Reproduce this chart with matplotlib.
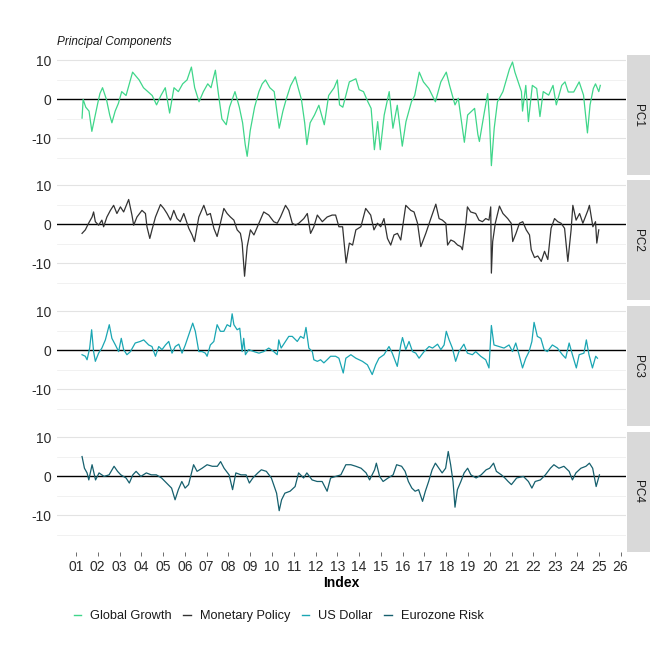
import matplotlib
matplotlib.use("Agg")
import matplotlib.pyplot as plt
from matplotlib.lines import Line2D
import numpy as np

plt.rcParams['font.family'] = ['Liberation Sans', 'DejaVu Sans']

# ---- data (decimal year, value) ----
pc1_years = [2001.28, 2001.33, 2001.45, 2001.6, 2001.73, 2001.85, 2002.0, 2002.1, 2002.22, 2002.4, 2002.55, 2002.65, 2002.8, 2002.95,
             2003.1, 2003.3, 2003.5, 2003.6, 2003.75, 2003.9, 2004.1, 2004.3, 2004.5, 2004.7, 2004.9, 2005.1, 2005.3, 2005.5, 2005.7, 2005.9,
             2006.1, 2006.3, 2006.45, 2006.65, 2006.85, 2007.05, 2007.2, 2007.4, 2007.55, 2007.7, 2007.9, 2008.05, 2008.3, 2008.5, 2008.65,
             2008.77, 2008.86, 2009.0, 2009.2, 2009.4, 2009.55, 2009.7, 2009.9, 2010.1, 2010.33, 2010.5, 2010.65, 2010.85, 2011.07, 2011.2,
             2011.35, 2011.5, 2011.6, 2011.75, 2011.95, 2012.15, 2012.4, 2012.6, 2012.85, 2013.0, 2013.1, 2013.25, 2013.55, 2013.85, 2014.0,
             2014.2, 2014.4, 2014.55, 2014.7, 2014.85, 2014.97, 2015.15, 2015.38, 2015.55, 2015.75, 2015.98, 2016.15, 2016.4, 2016.55, 2016.76,
             2016.95, 2017.2, 2017.5, 2017.75, 2018.0, 2018.15, 2018.4, 2018.55, 2018.7, 2018.83, 2018.98, 2019.3, 2019.45, 2019.52, 2019.75,
             2019.9, 2019.98, 2020.07, 2020.2, 2020.35, 2020.6, 2020.75, 2020.9, 2021.04, 2021.15, 2021.3, 2021.45, 2021.5, 2021.65, 2021.77,
             2021.95, 2022.15, 2022.3, 2022.45, 2022.7, 2022.9, 2023.05, 2023.3, 2023.45, 2023.6, 2023.85, 2024.1, 2024.3, 2024.48, 2024.6,
             2024.75, 2024.85, 2025.0, 2025.07]
pc1_values = [-4.8, 0.0, -2.0, -3.0, -8.2, -5.0, -1.0, 1.5, 3.0, 0.0, -4.0, -6.0, -3.0, -1.0,
              2.0, 1.0, 5.0, 7.0, 6.0, 5.0, 3.0, 2.0, 1.0, -1.4, 1.0, 3.0, -3.5, 3.0, 2.0, 4.0,
              5.0, 8.3, 3.0, -0.6, 2.0, 4.0, 3.0, 7.5, 1.0, -5.0, -6.5, -2.0, 2.0, -2.0, -6.0,
              -11.6, -14.6, -8.0, -2.0, 2.0, 4.0, 5.0, 3.0, 2.0, -7.4, -3.0, 0.0, 3.5, 5.8, 3.0,
              0.0, -6.0, -11.6, -6.0, -4.0, -1.5, -6.5, 1.0, 3.0, 5.0, -1.4, -2.0, 4.5, 5.3, 2.5,
              2.0, -0.6, -2.3, -12.9, -5.7, -12.9, -4.0, 2.0, -7.4, -1.5, -12.0, -5.7, -0.6, 1.0, 7.0,
              4.5, 2.8, -0.6, 4.5, 7.0, 3.6, -1.4, 0.3, -5.7, -11.0, -4.0, -2.3, -9.0, -10.8, -3.2,
              1.5, -4.8, -17.0, -7.4, -0.6, 2.0, 4.9, 7.8, 9.6, 7.0, 4.5, 2.0, -3.0, 3.6, -5.7,
              3.6, 2.8, -4.4, 2.0, 1.1, 3.6, -1.4, 3.6, 4.5, 1.9, 1.9, 4.5, 1.1, -8.6, -1.4,
              2.8, 4.0, 2.0, 3.6]

pc2_years = [2001.28, 2001.43, 2001.58, 2001.74, 2001.81, 2001.89, 2002.04, 2002.19, 2002.27, 2002.42, 2002.58, 2002.73, 2002.88, 2003.04,
             2003.19, 2003.42, 2003.57, 2003.65, 2003.8, 2004.03, 2004.19, 2004.26, 2004.39, 2004.49, 2004.65, 2004.88, 2005.03, 2005.18,
             2005.34, 2005.49, 2005.64, 2005.79, 2005.95, 2006.18, 2006.33, 2006.44, 2006.64, 2006.87, 2007.02, 2007.17, 2007.33, 2007.48,
             2007.63, 2007.79, 2007.94, 2008.09, 2008.25, 2008.4, 2008.55, 2008.63, 2008.74, 2008.86, 2009.01, 2009.17, 2009.4, 2009.62,
             2009.85, 2010.08, 2010.24, 2010.39, 2010.62, 2010.77, 2010.93, 2011.08, 2011.23, 2011.46, 2011.62, 2011.77, 2011.92, 2012.08,
             2012.31, 2012.53, 2012.76, 2012.92, 2013.07, 2013.24, 2013.4, 2013.55, 2013.7, 2013.85, 2014.08, 2014.3, 2014.53, 2014.68,
             2014.84, 2014.99, 2015.14, 2015.3, 2015.45, 2015.6, 2015.76, 2015.91, 2016.14, 2016.37, 2016.52, 2016.68, 2016.83, 2017.06,
             2017.29, 2017.52, 2017.67, 2017.82, 2017.98, 2018.06, 2018.21, 2018.36, 2018.52, 2018.67, 2018.74, 2018.9, 2018.97, 2019.12,
             2019.35, 2019.5, 2019.66, 2019.81, 2019.96, 2020.04, 2020.07, 2020.13, 2020.25, 2020.44, 2020.6, 2020.82, 2020.98, 2021.05,
             2021.2, 2021.36, 2021.51, 2021.67, 2021.82, 2021.9, 2022.05, 2022.2, 2022.36, 2022.51, 2022.66, 2022.81, 2022.97, 2023.12,
             2023.27, 2023.43, 2023.58, 2023.73, 2023.81, 2023.96, 2024.12, 2024.27, 2024.5, 2024.57, 2024.73, 2024.85, 2024.91, 2025.0]
pc2_values = [-2.3, -1.4, 0.3, 1.9, 3.2, 0.7, -0.2, 1.1, -0.6, 1.9, 3.6, 4.9, 2.8, 4.5,
              3.2, 6.4, 2.4, -0.2, 1.9, 3.6, 2.8, -0.6, -3.6, -1.4, 1.9, 5.1, 4.1, 2.8,
              1.1, 3.6, 1.5, 0.7, 2.8, -1.0, -2.7, -4.4, 1.9, 4.9, 2.4, 2.8, -1.0, -3.1,
              0.3, 4.1, 2.8, 1.9, 1.1, -1.4, -2.3, -4.8, -13.3, -5.7, -1.4, -2.7, 0.3, 3.2,
              2.4, 0.7, 0.3, 1.9, 4.9, 3.6, 0.3, -0.2, 0.3, 1.5, 2.8, -2.3, -0.6, 2.4,
              0.7, 1.9, 2.4, 2.4, -0.6, -0.6, -9.9, -4.8, -5.3, -1.4, -0.6, 4.1, 2.4, -1.4,
              0.3, -0.6, 1.5, -3.6, -5.3, -2.7, -2.3, -4.0, 4.9, 3.6, 3.2, 0.3, -5.7, -2.3,
              1.5, 5.2, 1.5, 1.1, 0.3, -5.3, -4.0, -4.4, -5.3, -5.7, -6.5, 0.3, 4.5, 3.2,
              2.8, 1.1, 0.7, 1.5, 1.1, 4.5, -12.5, -4.4, 0.3, 4.7, 2.8, 1.5, 0.3, -4.4,
              -2.3, 0.3, 0.7, -1.4, -2.7, -6.5, -8.5, -8.1, -9.5, -6.9, -9.0, -1.0, 1.5, 0.7,
              0.3, -1.0, -9.5, -1.4, 4.9, 1.1, 2.8, 0.3, 3.6, 4.9, -0.6, 0.7, -4.8, -1.4]

pc3_years = [2001.28, 2001.43, 2001.51, 2001.63, 2001.72, 2001.81, 2001.89, 2002.04, 2002.19, 2002.35, 2002.53, 2002.65, 2002.81, 2002.96,
             2003.08, 2003.19, 2003.34, 2003.5, 2003.72, 2003.95, 2004.11, 2004.34, 2004.49, 2004.65, 2004.8, 2004.95, 2005.11, 2005.26,
             2005.41, 2005.56, 2005.72, 2005.87, 2006.02, 2006.18, 2006.36, 2006.48, 2006.64, 2006.79, 2006.94, 2007.02, 2007.17, 2007.33,
             2007.48, 2007.63, 2007.79, 2007.94, 2008.09, 2008.17, 2008.25, 2008.4, 2008.52, 2008.63, 2008.7, 2008.78, 2008.93, 2009.17,
             2009.4, 2009.62, 2009.85, 2010.08, 2010.24, 2010.31, 2010.42, 2010.62, 2010.77, 2010.93, 2011.16, 2011.31, 2011.46, 2011.56,
             2011.69, 2011.85, 2011.92, 2012.08, 2012.23, 2012.38, 2012.53, 2012.69, 2012.92, 2013.07, 2013.22, 2013.27, 2013.39, 2013.62,
             2013.85, 2014.15, 2014.38, 2014.6, 2014.76, 2014.91, 2015.14, 2015.37, 2015.52, 2015.75, 2015.91, 2015.99, 2016.14, 2016.29,
             2016.45, 2016.6, 2016.75, 2016.98, 2017.21, 2017.37, 2017.6, 2017.75, 2017.9, 2018.0, 2018.13, 2018.28, 2018.43, 2018.58,
             2018.81, 2018.97, 2019.2, 2019.35, 2019.58, 2019.81, 2019.96, 2020.07, 2020.19, 2020.42, 2020.65, 2020.88, 2021.04, 2021.19,
             2021.34, 2021.5, 2021.65, 2021.8, 2021.93, 2022.03, 2022.18, 2022.34, 2022.49, 2022.64, 2022.87, 2023.1, 2023.33, 2023.48,
             2023.64, 2023.79, 2023.97, 2024.1, 2024.32, 2024.43, 2024.55, 2024.71, 2024.86, 2024.94]
pc3_values = [-1.1, -1.5, -2.4, 0.6, 5.3, -0.3, -2.8, -0.7, 0.6, 2.7, 6.6, 3.1, 1.4, -0.3,
              3.1, 0.2, -1.1, -0.3, 1.9, 2.3, 2.7, 1.4, 1.0, -1.5, 1.0, 0.2, 1.4, 2.3,
              -0.7, 1.0, 1.6, -0.7, 1.4, 4.0, 7.0, 4.9, -0.3, -0.3, -0.7, -1.5, 1.4, 2.3,
              6.6, 4.9, 4.9, 6.6, 6.1, 9.4, 6.6, 5.3, 5.7, -0.3, 3.1, -1.1, 0.2, -0.3,
              -0.7, -0.3, 0.6, -0.3, -1.1, 2.7, 0.6, 2.3, 3.6, 3.6, 2.3, 3.6, 3.1, 5.9,
              0.6, -0.3, -2.4, -2.8, -2.4, -3.2, -2.4, -1.5, -1.5, -2.0, -4.9, -5.8, -2.0, -1.1,
              -2.0, -2.8, -3.7, -6.2, -3.7, -2.0, -1.1, 1.0, -0.7, -4.1, 1.4, 3.3, 0.2, 2.3,
              -0.3, -0.7, -2.0, -0.3, 1.0, 0.6, 1.6, 0.2, 1.4, 4.9, 2.7, 0.6, -2.8, -0.3,
              1.6, -0.7, -1.1, -0.3, -1.5, -2.4, -4.5, 6.4, 1.4, 1.0, 0.6, 1.4, -0.3, 1.9,
              -1.1, -4.5, -2.0, -0.3, 2.3, 7.2, 3.6, 3.1, 0.2, -0.3, 1.4, 0.6, -1.1, -2.0,
              1.9, -1.1, -4.5, -1.1, -0.7, 2.7, -1.1, -4.5, -1.5, -2.0]

pc4_years = [2001.28, 2001.39, 2001.51, 2001.59, 2001.74, 2001.9, 2002.06, 2002.29, 2002.52, 2002.75, 2002.91, 2003.06, 2003.3, 2003.45,
             2003.61, 2003.76, 2003.98, 2004.23, 2004.46, 2004.69, 2004.93, 2005.16, 2005.39, 2005.55, 2005.7, 2005.86, 2006.01, 2006.17,
             2006.4, 2006.56, 2006.79, 2007.02, 2007.26, 2007.49, 2007.64, 2007.8, 2008.03, 2008.19, 2008.34, 2008.58, 2008.81, 2008.96,
             2009.12, 2009.35, 2009.51, 2009.74, 2009.97, 2010.21, 2010.33, 2010.44, 2010.59, 2010.83, 2011.06, 2011.22, 2011.45, 2011.6,
             2011.84, 2012.07, 2012.3, 2012.53, 2012.69, 2012.92, 2013.16, 2013.39, 2013.62, 2013.85, 2014.09, 2014.32, 2014.48, 2014.71,
             2014.79, 2014.94, 2015.1, 2015.33, 2015.56, 2015.72, 2015.95, 2016.11, 2016.26, 2016.42, 2016.57, 2016.73, 2016.91, 2017.04,
             2017.19, 2017.35, 2017.5, 2017.66, 2017.81, 2017.97, 2018.09, 2018.2, 2018.31, 2018.4, 2018.51, 2018.67, 2018.82, 2018.98,
             2019.13, 2019.37, 2019.6, 2019.83, 2019.99, 2020.17, 2020.3, 2020.53, 2020.69, 2020.84, 2020.99, 2021.23, 2021.54, 2021.77,
             2021.93, 2022.08, 2022.32, 2022.55, 2022.78, 2022.94, 2023.17, 2023.4, 2023.64, 2023.79, 2023.95, 2024.18, 2024.41, 2024.57,
             2024.72, 2024.88, 2025.03]
pc4_values = [5.1, 2.1, 0.9, -0.9, 3.0, -0.9, 0.9, 0.0, 0.4, 2.6, 1.3, 0.4, -0.4, -1.7,
              0.4, 1.3, 0.0, 0.9, 0.4, 0.4, -0.4, -1.7, -3.0, -6.0, -3.4, -1.3, -3.0, -2.1,
              3.0, 1.3, 2.1, 3.0, 2.6, 2.6, 3.8, 2.1, 0.4, -3.4, 0.9, 0.4, 0.4, -1.7,
              -0.4, 0.9, 1.7, 1.3, -0.4, -4.3, -8.8, -6.0, -4.3, -3.8, -2.6, 0.9, -0.4, 0.9,
              -0.9, -1.3, -1.3, -3.8, -0.4, 0.0, 0.4, 3.0, 3.0, 2.6, 2.1, 0.9, -0.9, 1.7,
              3.4, 0.0, -1.3, -0.4, 0.4, 3.0, 2.6, 1.3, -1.3, -3.0, -3.8, -3.4, -6.4, -3.8,
              -1.3, 1.7, 3.4, 2.1, 0.9, 2.1, 6.4, 3.0, -1.3, -7.9, -3.4, -1.3, 0.9, 2.1,
              0.4, -0.4, 0.4, 1.7, 2.1, 3.4, 1.3, 0.4, -0.4, -1.3, -2.1, -0.4, 0.0, -1.3,
              -3.0, -1.3, -0.9, 0.4, 2.1, 3.0, 2.1, 2.6, 1.3, -0.9, 0.9, 2.1, 2.6, 3.4,
              2.1, -2.6, 0.4]

panel_labels = ["PC1", "PC2", "PC3", "PC4"]
series_names = ["Global Growth", "Monetary Policy", "US Dollar", "Eurozone Risk"]
series_colors = ["#3fd68a", "#333333", "#1aa6b3", "#16606e"]
x_tick_labels = ["%02d" % i for i in range(1, 27)]
x_tick_years = list(range(2001, 2027))

years = [pc1_years, pc2_years, pc3_years, pc4_years]
values = [pc1_values, pc2_values, pc3_values, pc4_values]

W = H = 661
fig = plt.figure(figsize=(6.61, 6.61), dpi=100)

left_px, right_px = 57, 626
strip_w = 23
panel_tops = [55, 180, 306, 432]
panel_h = 120

for i in range(4):
    top = panel_tops[i]
    ax = fig.add_axes([left_px / W, 1 - (top + panel_h) / H, (right_px - left_px) / W, panel_h / H])
    ax.set_xlim(2000.13, 2026.25)
    ax.set_ylim(-19.4, 11.4)
    for yv in [-15, -5, 5]:
        ax.axhline(yv, color="#ececec", lw=0.5, zorder=0)
    for yv in [-10, 10]:
        ax.axhline(yv, color="#e3e3e3", lw=0.8, zorder=0)
    ax.axhline(0, color="black", lw=1.0, zorder=1)
    ax.plot(years[i], values[i], color=series_colors[i], lw=0.9, zorder=2)
    for s in ax.spines.values():
        s.set_visible(False)
    ax.set_yticks([-10, 0, 10])
    ax.set_yticklabels(["-10", "0", "10"])
    ax.tick_params(axis="y", length=0, labelsize=10, labelcolor="#2b2b2b", pad=4)
    if i == 3:
        ax.set_xticks(x_tick_years)
        ax.set_xticklabels(x_tick_labels)
        ax.tick_params(axis="x", length=3, color="#555555", width=0.6, labelsize=10,
                       labelcolor="#2b2b2b", pad=3, direction="out")
        ax.set_xlabel("Index", fontsize=10, fontweight="bold", labelpad=1)
    else:
        ax.set_xticks([])
    # strip
    sax = fig.add_axes([(right_px + 1) / W, 1 - (top + panel_h) / H, strip_w / W, panel_h / H])
    sax.set_facecolor("#d9d9d9")
    sax.set_xticks([]); sax.set_yticks([])
    for s in sax.spines.values():
        s.set_visible(False)
    sax.text(0.5, 0.5, panel_labels[i], rotation=-90, ha="center", va="center",
             fontsize=8.5, color="#1a1a1a", transform=sax.transAxes)

fig.text(left_px / W, 1 - 42 / H, "Principal Components", fontsize=8.5, style="italic",
         ha="left", va="center", color="#1a1a1a")

handles = [Line2D([0], [0], color=c, lw=1.0) for c in series_colors]
fig.legend(handles, series_names, loc="center left", bbox_to_anchor=(62 / W, 1 - 616 / H),
           ncol=4, frameon=False, fontsize=9.2, handlelength=0.6, handletextpad=0.7,
           columnspacing=0.9, labelcolor="#1a1a1a")

fig.savefig("out.png", dpi=100, facecolor="white")
